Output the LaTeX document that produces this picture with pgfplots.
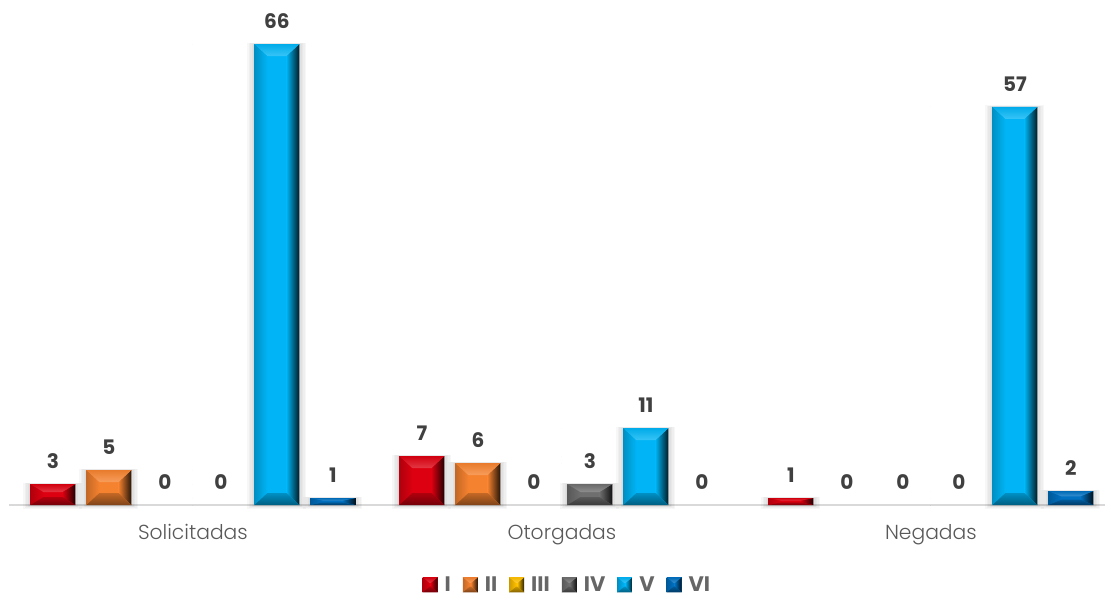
\documentclass[border=0pt]{standalone}
\usepackage{fontspec}
\setmainfont{Poppins}
\newfontfamily\lightf{Poppins Light}
\usepackage{pgfplots}
\usepackage{pgfplotstable}
\pgfplotsset{compat=1.18}

\definecolor{cI}{HTML}{DC0010}
\definecolor{cII}{HTML}{F5822F}
\definecolor{cIII}{HTML}{FFC000}
\definecolor{cIV}{HTML}{6F6F6F}
\definecolor{cV}{HTML}{00B4F5}
\definecolor{cVI}{HTML}{0070C0}
\definecolor{txtdark}{HTML}{404040}
\definecolor{txtgray}{HTML}{595959}
\definecolor{legtxt}{HTML}{666666}
\definecolor{axisgray}{HTML}{D9D9D9}

\pgfplotstableread{
g I II III IV V VI
0 3 5 0 0 66 1
1 7 6 0 3 11 0
2 1 0 0 0 57 2
}\permits

% colour, left, right, top y, bottom y, side inset, cap limit (all in px = pt)
\newcommand{\bevel}[7]{%
  \pgfmathsetmacro{\xa}{#2}\pgfmathsetmacro{\xb}{#3}%
  \pgfmathsetmacro{\ytop}{#4}\pgfmathsetmacro{\ybot}{#5}%
  \pgfmathsetmacro{\ins}{#6}\pgfmathsetmacro{\dy}{min(#7,0.38*(\ytop-\ybot))}%
  \pgfmathsetmacro{\xc}{\xa+\ins}\pgfmathsetmacro{\xd}{\xb-\ins}%
  \pgfmathsetmacro{\yt}{\ytop-\dy}\pgfmathsetmacro{\yb}{\ybot+\dy}%
  \fill[#1] (\xa pt,\ybot pt) rectangle (\xb pt,\ytop pt);
  \shade[left color=#1!80!black,right color=#1] (\xa pt,\ybot pt) -- (\xc pt,\yb pt) -- (\xc pt,\yt pt) -- (\xa pt,\ytop pt) -- cycle;
  \shade[left color=#1,right color=#1!15!black] (\xb pt,\ybot pt) -- (\xd pt,\yb pt) -- (\xd pt,\yt pt) -- (\xb pt,\ytop pt) -- cycle;
  \shade[top color=#1!95!black,bottom color=#1!78!white] (\xa pt,\ytop pt) -- (\xc pt,\yt pt) -- (\xd pt,\yt pt) -- (\xb pt,\ytop pt) -- cycle;
  \shade[top color=#1!80!black,bottom color=#1!52!black] (\xa pt,\ybot pt) -- (\xc pt,\yb pt) -- (\xd pt,\yb pt) -- (\xb pt,\ybot pt) -- cycle;
}

% soft shadow round a bar: left, right, bottom y
\newcommand{\softshadow}[3]{%
  \foreach \e in {7,5.5,4,2.5,1}{%
    \fill[black,opacity=0.03] ({(#1-\e)*1pt},{(#3-0.6*\e)*1pt}) rectangle ({(#2+\e)*1pt},{0.2*\e*1pt});
  }%
}

% colour, bar shift, column
\newcommand{\barseries}[3]{%
  \addplot[ybar,bar width=45pt,bar shift=#2pt,fill=none,draw=none,
    nodes near coords={\pgfmathprintnumber[assume math mode=true]{\pgfplotspointmeta}},
    nodes near coords style={font=\bfseries\fontsize{20}{20}\selectfont,text=txtdark,inner sep=0pt,anchor=south,xshift=#2pt,yshift=15pt},
    legend image code/.code={%
      \path (0pt,0pt) -- (20pt,0pt);
      \bevel{#1}{0}{15}{7.5}{-7.5}{7}{7}}]
    table[x=g,y=#3]{\permits};
  \addlegendentry{#3}
  \addplot[forget plot,only marks,scatter,mark=*,mark size=0pt,draw=none,fill=none,
    visualization depends on={y \as \barv},
    scatter/@pre marker code/.code={%
      \pgfmathsetmacro{\bh}{\barv*6.985}%
      \ifdim\bh pt>0pt
        \softshadow{#2-22.5}{#2+22.5}{-\bh}%
        \bevel{#1}{#2-22.5}{#2+22.5}{0}{-\bh}{13}{12}%
      \fi
      \scope[draw=none,fill=none]}]
    table[x=g,y=#3]{\permits};
}

\begin{document}
\begin{tikzpicture}
\path[use as bounding box] (-9pt,-94pt) rectangle (1096pt,505pt);
\begin{axis}[
    scale only axis,
    width=1096pt, height=505pt,
    xmin=-0.4984, xmax=2.4718,
    ymin=0, ymax=72.3,
    clip=false,
    axis y line=none,
    axis x line=bottom,
    axis line style={axisgray,line width=2.6pt,-},
    xtick={0,1,2},
    xticklabels={Solicitadas,Otorgadas,Negadas},
    major tick length=0pt,
    xticklabel style={font=\lightf\fontsize{20.3}{20.3}\selectfont,text=txtgray,yshift=-16pt},
    legend columns=6,
    legend cell align=left,
    legend style={at={(0.5095,-0.158)},anchor=center,draw=none,fill=none,inner sep=0pt,
      font=\bfseries\fontsize{21}{21}\selectfont,text=legtxt,
      /tikz/every even column/.append style={column sep=10pt}},
]
\barseries{cI}{-140}{I}
\barseries{cII}{-84}{II}
\barseries{cIII}{-28}{III}
\barseries{cIV}{28}{IV}
\barseries{cV}{84}{V}
\barseries{cVI}{140}{VI}
\end{axis}
\end{tikzpicture}
\end{document}
